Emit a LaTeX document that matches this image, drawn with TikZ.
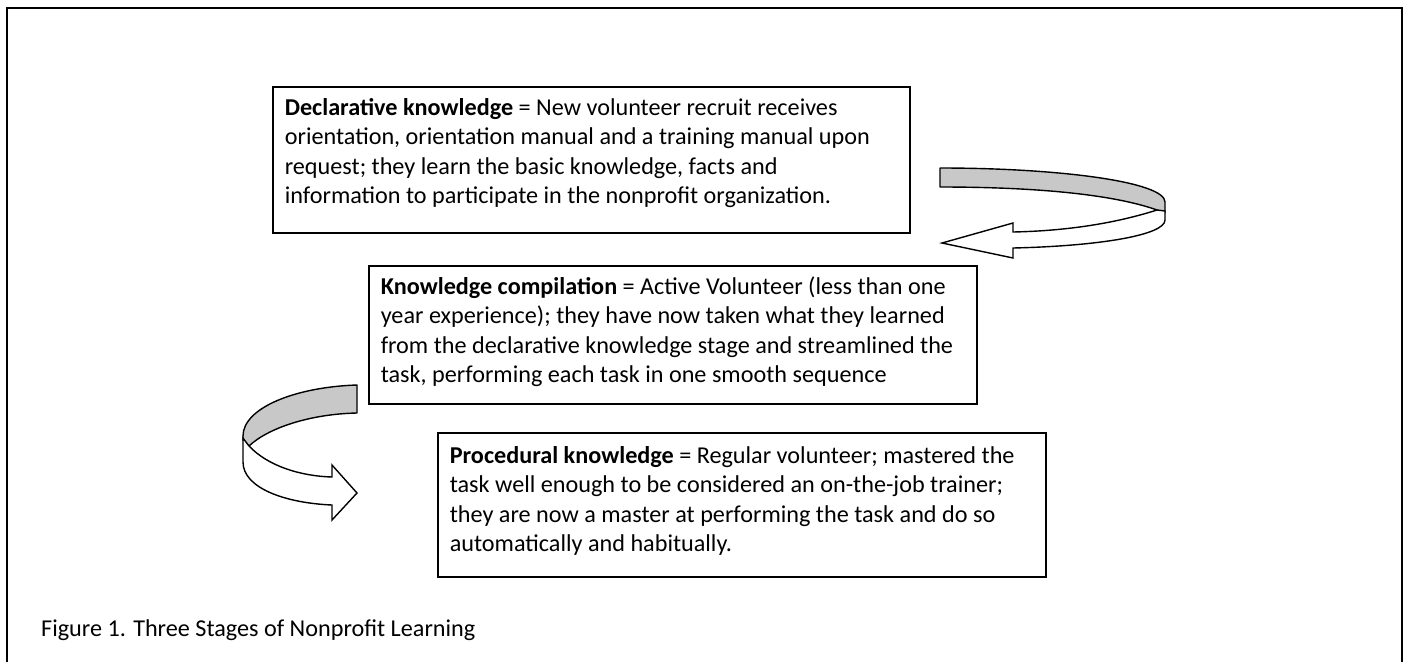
\documentclass[tikz,border=0pt]{standalone}
\usepackage{fontspec}
\setmainfont{Carlito}
\definecolor{ribbongray}{RGB}{200,200,200}
\newcommand\stagepar[3]{\parbox[c][#2][t]{#1}{\raggedright\strut #3}}
\begin{document}
\begin{tikzpicture}[x=1pt,y=-1pt,
  bodyfont/.style={font=\fontsize{24.2}{29.5}\selectfont},
  stagebox/.style={draw, line width=1.6pt, anchor=north west, inner xsep=12pt, inner ysep=8pt, bodyfont},
  ribbonback/.style={draw, line width=1.4pt, fill=ribbongray, line join=round},
  ribbonfront/.style={draw, line width=1.4pt, fill=white, line join=miter},
  frameline/.style={line width=2.7pt}]
\useasboundingbox (0,0) rectangle (1407,662);
% outer frame (open at the bottom)
\draw[frameline] (7,662) -- (7,8) -- (1402,8) -- (1402,662);
% stage boxes
\node[stagebox] (decl) at (272,86) {\stagepar{613pt}{130pt}{\textbf{Declarative knowledge} = New volunteer recruit receives\\
orientation, orientation manual and a training manual upon\\
request; they learn the basic knowledge, facts and\\
information to participate in the nonprofit organization.}};
\node[stagebox] (comp) at (368,265) {\stagepar{584pt}{122pt}{\textbf{Knowledge compilation} = Active Volunteer (less than one\\
year experience); they have now taken what they learned\\
from the declarative knowledge stage and streamlined the\\
task, performing each task in one smooth sequence}};
\node[stagebox, inner ysep=10pt] (proc) at (437,432) {\stagepar{584pt}{124pt}{\textbf{Procedural knowledge} = Regular volunteer; mastered the\\
task well enough to be considered an on-the-job trainer;\\
they are now a master at performing the task and do so\\
automatically and habitually.}};
% curved arrow 1 (right side, pointing left)
\draw[ribbonback] (940,168) .. controls (1060,168) and (1165,182) .. (1165,202) -- (1165,213) -- (1157,210)
  .. controls (1115,195) and (1040,187) .. (940,187) -- cycle;
\draw[ribbonfront] (1157,210) .. controls (1110,225) and (1060,231) .. (1013,232) -- (1013,223) -- (942,243)
  -- (1013,258) -- (1013,248) .. controls (1100,246) and (1165,235) .. (1165,220) -- (1165,211) -- cycle;
% curved arrow 2 (left side, pointing right)
\draw[ribbonback] (357,385) .. controls (295,387) and (243,408) .. (243,436) -- (243,440) -- (249,446)
  .. controls (268,428) and (310,414) .. (357,413) -- cycle;
\draw[ribbonfront] (249,446) .. controls (268,466) and (300,476) .. (332,477) -- (332,465) -- (357,493)
  -- (332,520) -- (332,505) .. controls (285,503) and (243,488) .. (243,462) -- (243,438) -- cycle;
% caption
\node[bodyfont, anchor=base west, inner sep=0pt] (cap) at (41,636) {Figure 1. Three Stages of Nonprofit Learning};
\end{tikzpicture}
\end{document}
